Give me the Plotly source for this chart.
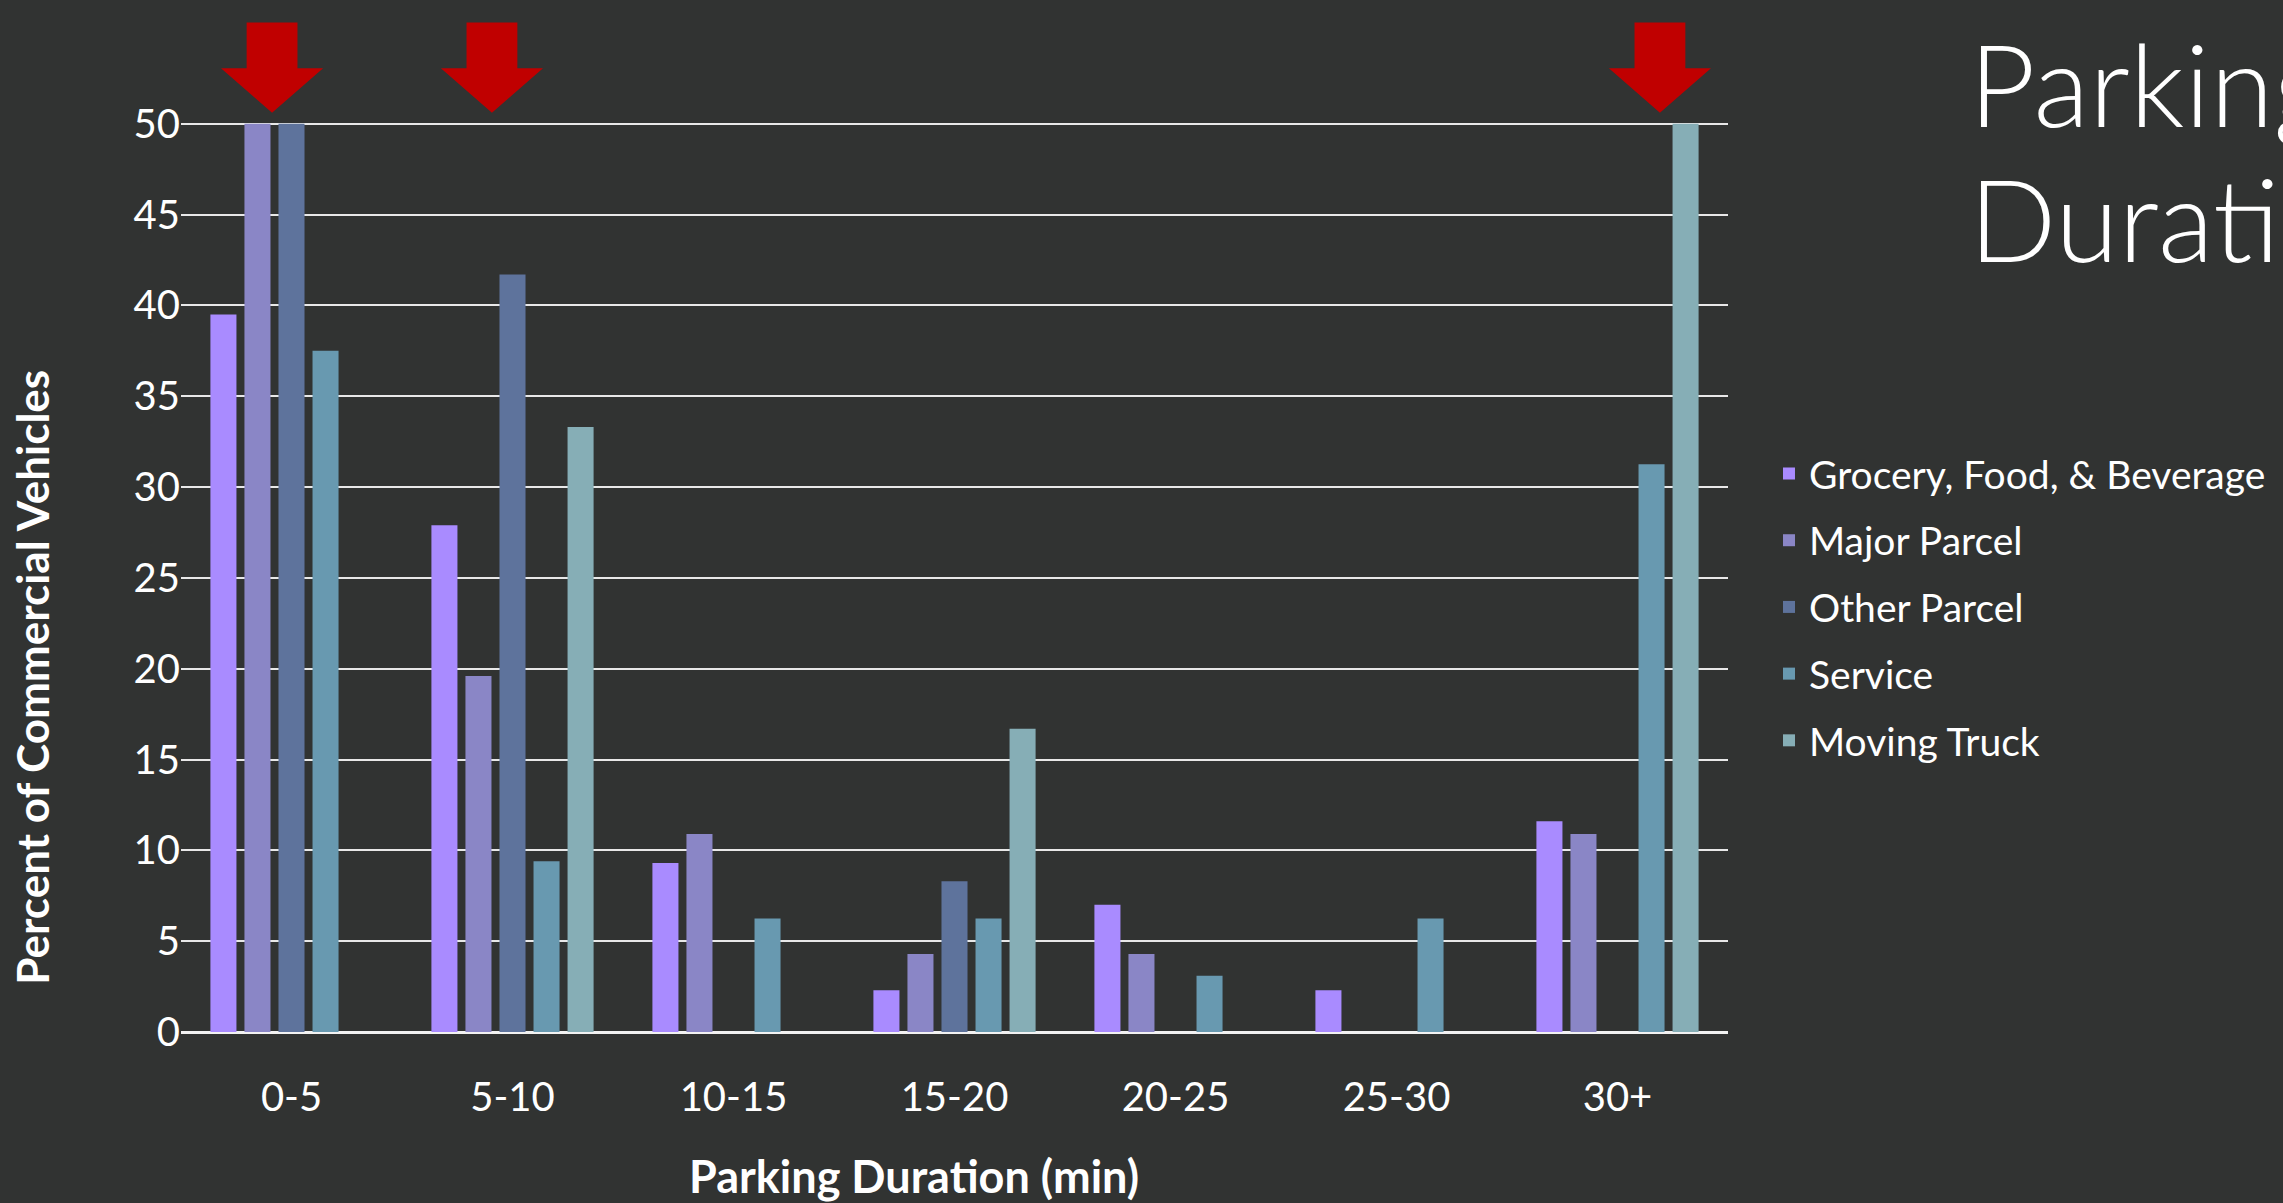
import plotly.graph_objects as go

categories = ["0-5", "5-10", "10-15", "15-20", "20-25", "25-30", "30+"]
series_names = ["Grocery, Food, & Beverage", "Major Parcel", "Other Parcel", "Service", "Moving Truck"]
grocery = [39.5, 27.9, 9.3, 2.3, 7.0, 2.3, 11.6]
major_parcel = [50.0, 19.6, 10.9, 4.3, 4.3, 0, 10.9]
other_parcel = [50.0, 41.7, 0, 8.3, 0, 0, 0]
service = [37.5, 9.4, 6.25, 6.25, 3.1, 6.25, 31.25]
moving_truck = [0, 33.3, 0, 16.7, 0, 0, 50.0]
series_values = [grocery, major_parcel, other_parcel, service, moving_truck]
colors = ["#A98BFF", "#8A86C6", "#5E739C", "#6899B0", "#86AEB6"]
y_ticks = [0, 5, 10, 15, 20, 25, 30, 35, 40, 45, 50]
arrow_categories = [0, 1, 6]
arrow_offsets = [-0.088, -0.093, 0.192]

BG = "#313332"
FONT = "Lato"

fig = go.Figure()
for i, (name, vals) in enumerate(zip(series_names, series_values)):
    fig.add_trace(go.Bar(
        x=categories, y=vals, name=name,
        marker=dict(color=colors[i], line=dict(width=0)),
        legendgroup=f"g{i}",
    ))

# red block arrows above selected categories (paper coords derived from category index)
n = len(categories)
shapes = []
for c, off in zip(arrow_categories, arrow_offsets):
    cx = (c + 0.5 + off) / n
    hw = 0.231 / n   # head half-width
    sw = 0.115 / n   # shaft half-width
    y_top, y_head, y_tip = 1.108, 1.0580, 1.009
    path = (f"M {cx - sw} {y_top} L {cx + sw} {y_top} L {cx + sw} {y_head} "
            f"L {cx + hw} {y_head} L {cx} {y_tip} L {cx - hw} {y_head} "
            f"L {cx - sw} {y_head} Z")
    shapes.append(dict(type="path", xref="paper", yref="paper", path=path,
                       fillcolor="#C00000", line=dict(width=0), layer="above"))

fig.update_layout(
    width=2283, height=1203,
    paper_bgcolor=BG, plot_bgcolor=BG,
    margin=dict(l=181, r=555, t=121, b=171),
    barmode="group", bargap=0.23, bargroupgap=0.235,
    font=dict(family=FONT, color="white", size=40),
    showlegend=True,
    legend=dict(
        x=1.0265, y=0.648, xanchor="left", yanchor="top",
        font=dict(family=FONT, size=39, color="white"),
        bgcolor="rgba(0,0,0,0)", traceorder="grouped", tracegroupgap=13,
    ),
    shapes=shapes,
    annotations=[
        dict(text="Parking", xref="paper", yref="paper", x=1.1545, y=1.043,
             xanchor="left", yanchor="middle", showarrow=False,
             font=dict(family=FONT, size=115, color="white", weight=300)),
        dict(text="Duration", xref="paper", yref="paper", x=1.1545, y=0.8950,
             xanchor="left", yanchor="middle", showarrow=False,
             font=dict(family=FONT, size=115, color="white", weight=300)),
        dict(text="<b>Parking Duration (min)</b>", xref="paper", yref="paper",
             x=0.474, y=-0.1586, xanchor="center", yanchor="middle", showarrow=False,
             font=dict(family=FONT, size=45, color="white")),
        dict(text="<b>Percent of Commercial Vehicles</b>", xref="paper", yref="paper",
             x=-0.0963, y=0.389, xanchor="center", yanchor="middle", showarrow=False,
             textangle=-90, font=dict(family=FONT, size=44, color="white")),
    ],
    xaxis=dict(
        type="category", showgrid=False, showline=False, ticks="",
        tickfont=dict(family=FONT, size=40, color="white"),
        ticklabelstandoff=38,
        automargin=False,
    ),
    yaxis=dict(
        range=[0, 50.15], tickvals=y_ticks, showgrid=True, gridcolor="#E8E8E8", gridwidth=2,
        zeroline=True, zerolinecolor="#F2F2F2", zerolinewidth=3,
        showline=False, ticks="",
        tickfont=dict(family=FONT, size=40, color="white"),
        automargin=False,
    ),
)

fig.write_html("out.html")
